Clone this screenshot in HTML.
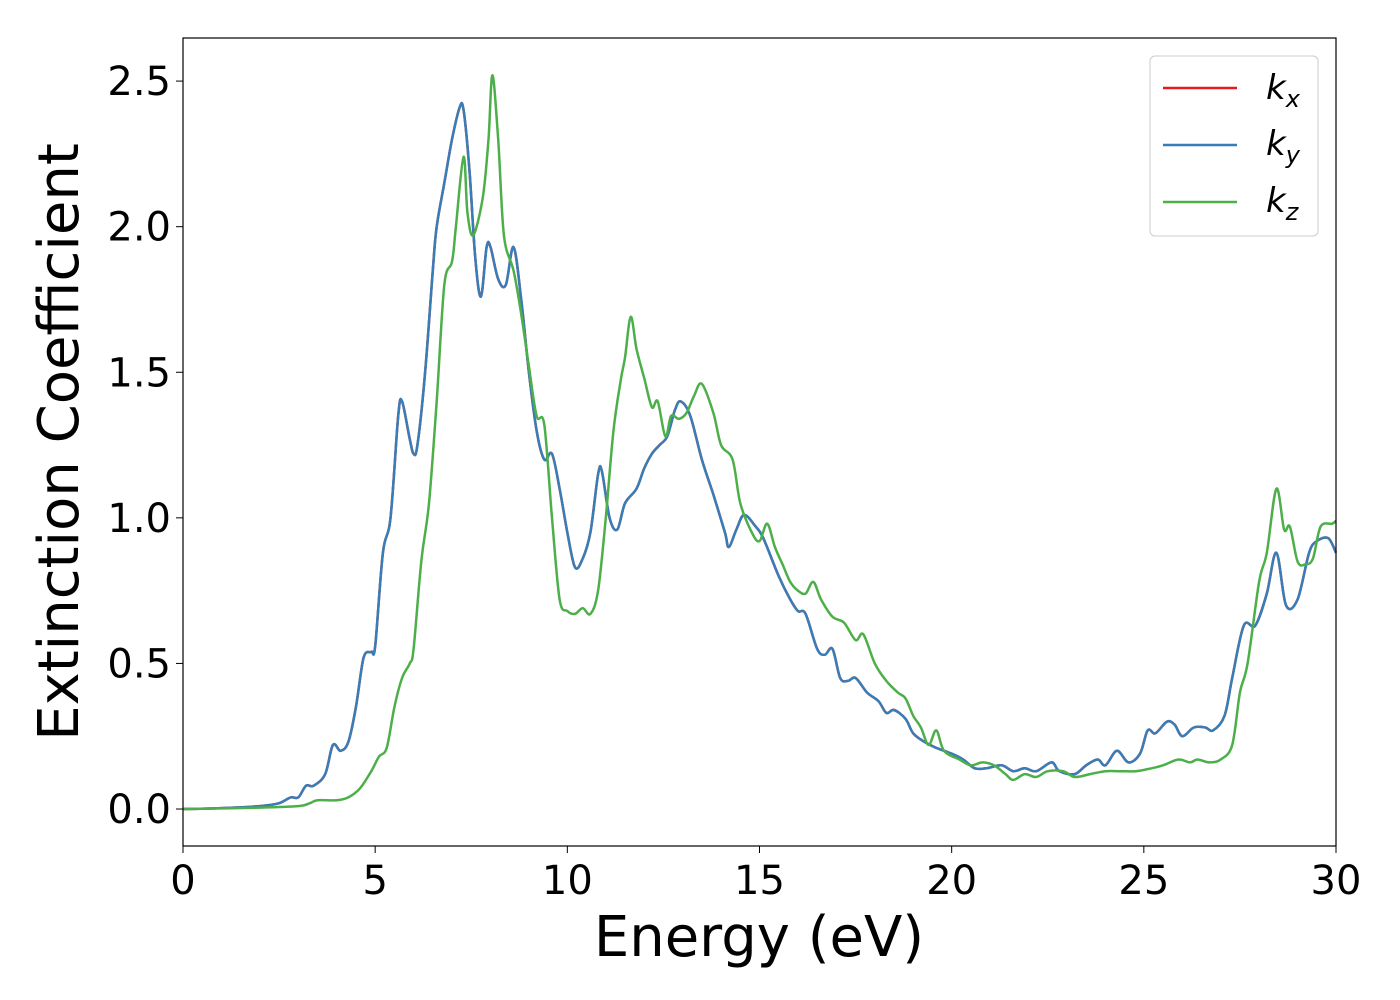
<!DOCTYPE html>
<html><head><meta charset="utf-8"><style>
html,body{margin:0;padding:0;background:#fff;}
svg{display:block;font-family:"DejaVu Sans","Liberation Sans",sans-serif;}
</style></head><body>
<svg id="chart" width="1400" height="1000" viewBox="0 0 1400 1000">
<rect x="0" y="0" width="1400" height="1000" fill="#fff"/>
<g id="series"></g>
<rect x="183" y="38" width="1153" height="808" fill="none" stroke="#000" stroke-width="1.2"/>
<g id="xticks"></g><g id="yticks"></g>
<text x="759" y="956" font-size="56" text-anchor="middle">Energy (eV)</text>
<text transform="translate(78,442) rotate(-90)" font-size="56" text-anchor="middle">Extinction Coefficient</text>
<g>
<rect x="1150" y="56" width="168" height="180" rx="5" fill="#fff" stroke="#ccc" stroke-width="1"/>
<line x1="1163" y1="88" x2="1237" y2="88" stroke="#e41a1c" stroke-width="2.5"/>
<text x="1266" y="99" font-size="34" font-style="italic">k<tspan font-size="24" dy="8">x</tspan></text>
<line x1="1163" y1="145" x2="1237" y2="145" stroke="#377eb8" stroke-width="2.5"/>
<text x="1266" y="155" font-size="34" font-style="italic">k<tspan font-size="24" dy="8">y</tspan></text>
<line x1="1163" y1="202" x2="1237" y2="202" stroke="#4daf4a" stroke-width="2.5"/>
<text x="1266" y="212" font-size="34" font-style="italic">k<tspan font-size="24" dy="8">z</tspan></text>
</g>
</svg>
<script>
const xTicks=[0,5,10,15,20,25,30];
const yTicks=[0.0,0.5,1.0,1.5,2.0,2.5];
const energyXY=[0,1,2,2.5,2.8,3.0,3.2,3.4,3.7,3.9,4.1,4.3,4.5,4.7,4.9,5.0,5.2,5.4,5.6,5.7,5.9,6.0,6.1,6.3,6.5,6.6,6.8,7.0,7.2,7.3,7.45,7.6,7.75,7.9,8.0,8.2,8.4,8.6,8.8,9.0,9.2,9.4,9.6,9.8,10.0,10.2,10.4,10.6,10.8,10.9,11.1,11.3,11.5,11.8,12.0,12.2,12.4,12.6,12.8,12.95,13.2,13.5,13.8,14.1,14.2,14.4,14.6,14.9,15.1,15.5,15.8,16.0,16.2,16.5,16.7,16.9,17.1,17.3,17.5,17.8,18.1,18.3,18.5,18.8,19.0,19.3,19.6,20.0,20.3,20.6,20.9,21.3,21.6,21.9,22.2,22.6,22.8,23.2,23.5,23.8,24.0,24.3,24.6,24.9,25.1,25.3,25.6,25.8,26.0,26.3,26.6,26.8,27.1,27.3,27.6,27.9,28.2,28.45,28.7,29.0,29.3,29.5,29.8,30];
const kx=[0,0.003,0.01,0.02,0.04,0.04,0.08,0.08,0.12,0.22,0.2,0.23,0.35,0.52,0.54,0.56,0.88,1.0,1.35,1.40,1.27,1.22,1.25,1.5,1.85,2.0,2.15,2.3,2.41,2.40,2.2,1.9,1.76,1.93,1.93,1.82,1.80,1.93,1.75,1.5,1.3,1.2,1.22,1.1,0.95,0.83,0.86,0.95,1.15,1.16,1.0,0.96,1.05,1.10,1.17,1.22,1.25,1.28,1.37,1.40,1.35,1.2,1.08,0.95,0.90,0.96,1.01,0.97,0.93,0.8,0.72,0.68,0.67,0.55,0.53,0.55,0.45,0.44,0.45,0.4,0.37,0.33,0.34,0.31,0.26,0.23,0.21,0.19,0.17,0.14,0.14,0.15,0.13,0.14,0.13,0.16,0.13,0.12,0.15,0.17,0.15,0.2,0.16,0.19,0.27,0.26,0.30,0.29,0.25,0.28,0.28,0.27,0.32,0.45,0.63,0.63,0.74,0.88,0.70,0.72,0.88,0.92,0.93,0.88];
const ky=kx.slice();
const energyZ=[0,2,3,3.3,3.5,4.0,4.3,4.6,4.9,5.1,5.3,5.5,5.7,5.9,6.0,6.2,6.4,6.6,6.8,7.0,7.1,7.3,7.4,7.55,7.8,7.95,8.05,8.2,8.35,8.6,8.8,9.0,9.2,9.4,9.6,9.8,10.0,10.2,10.4,10.6,10.8,11.0,11.2,11.4,11.5,11.65,11.8,12.0,12.2,12.35,12.55,12.7,12.9,13.1,13.3,13.5,13.8,14.0,14.3,14.5,14.8,15.0,15.2,15.4,15.6,15.8,16.0,16.2,16.4,16.6,16.9,17.2,17.5,17.7,18.0,18.3,18.6,18.8,19.0,19.2,19.4,19.6,19.8,20.2,20.5,20.8,21.1,21.4,21.6,21.9,22.2,22.5,22.9,23.2,23.6,24.0,24.4,24.8,25.2,25.5,25.9,26.2,26.4,26.7,27.0,27.3,27.5,27.7,28.0,28.2,28.45,28.65,28.8,29.0,29.2,29.4,29.6,29.9,30];
const kz=[0,0.005,0.01,0.02,0.03,0.03,0.04,0.07,0.13,0.18,0.21,0.35,0.45,0.5,0.55,0.85,1.05,1.4,1.8,1.88,2.0,2.24,2.05,1.97,2.1,2.3,2.52,2.3,1.97,1.85,1.7,1.52,1.35,1.32,1.0,0.72,0.68,0.67,0.69,0.67,0.75,1.0,1.3,1.48,1.55,1.69,1.58,1.48,1.38,1.4,1.28,1.35,1.34,1.36,1.42,1.46,1.36,1.25,1.2,1.05,0.95,0.92,0.98,0.9,0.84,0.78,0.75,0.74,0.78,0.72,0.66,0.64,0.58,0.60,0.5,0.44,0.4,0.38,0.32,0.28,0.22,0.27,0.2,0.17,0.15,0.16,0.15,0.12,0.10,0.12,0.11,0.13,0.13,0.11,0.12,0.13,0.13,0.13,0.14,0.15,0.17,0.16,0.17,0.16,0.17,0.22,0.4,0.5,0.78,0.88,1.10,0.96,0.97,0.85,0.84,0.86,0.97,0.98,0.99];
const X0=183,X1=1336,Y0=846,Y1=38,XMIN=0,XMAX=30,YMIN=-0.127,YMAX=2.648;
function sx(v){return X0+(v-XMIN)/(XMAX-XMIN)*(X1-X0);}
function sy(v){return Y0-(v-YMIN)/(YMAX-YMIN)*(Y0-Y1);}
const NS="http://www.w3.org/2000/svg";
function pathFor(xs,ys){
  const p=xs.map((x,i)=>[sx(x),sy(ys[i])]);
  let d="M"+p[0][0].toFixed(1)+","+p[0][1].toFixed(1);
  for(let i=0;i<p.length-1;i++){
    const a=p[Math.max(0,i-1)],b=p[i],c=p[i+1],e=p[Math.min(p.length-1,i+2)];
    const c1=[b[0]+(c[0]-a[0])/6,b[1]+(c[1]-a[1])/6],c2=[c[0]-(e[0]-b[0])/6,c[1]-(e[1]-b[1])/6];
    d+=" C"+c1[0].toFixed(1)+","+c1[1].toFixed(1)+" "+c2[0].toFixed(1)+","+c2[1].toFixed(1)+" "+c[0].toFixed(1)+","+c[1].toFixed(1);
  }
  return d;
}
const g=document.getElementById("series");
function addLine(xs,ys,color,name){
  const el=document.createElementNS(NS,"path");
  el.setAttribute("d",pathFor(xs,ys));
  el.setAttribute("fill","none");el.setAttribute("stroke",color);el.setAttribute("stroke-width","2.5");
  el.setAttribute("stroke-linejoin","round");
  
  
  g.appendChild(el);
}
addLine(energyXY,kx,"#e41a1c","series-kx");
addLine(energyXY,ky,"#377eb8","series-ky");
addLine(energyZ,kz,"#4daf4a","series-kz");
const xt=document.getElementById("xticks");
xTicks.forEach(v=>{
  const l=document.createElementNS(NS,"line");
  l.setAttribute("x1",sx(v));l.setAttribute("x2",sx(v));l.setAttribute("y1",Y0);l.setAttribute("y2",Y0+7);l.setAttribute("stroke","#000");
  
  
  xt.appendChild(l);
  const t=document.createElementNS(NS,"text");
  t.setAttribute("x",sx(v));t.setAttribute("y",Y0+48);t.setAttribute("font-size","40");t.setAttribute("text-anchor","middle");
  t.textContent=String(v);
  
  
  xt.appendChild(t);
});
const yt=document.getElementById("yticks");
yTicks.forEach(v=>{
  const l=document.createElementNS(NS,"line");
  l.setAttribute("x1",X0-7);l.setAttribute("x2",X0);l.setAttribute("y1",sy(v));l.setAttribute("y2",sy(v));l.setAttribute("stroke","#000");
  
  
  yt.appendChild(l);
  const t=document.createElementNS(NS,"text");
  t.setAttribute("x",X0-12);t.setAttribute("y",sy(v)+14);t.setAttribute("font-size","40");t.setAttribute("text-anchor","end");
  t.textContent=v.toFixed(1);
  
  
  yt.appendChild(t);
});
</script>
</body></html>
